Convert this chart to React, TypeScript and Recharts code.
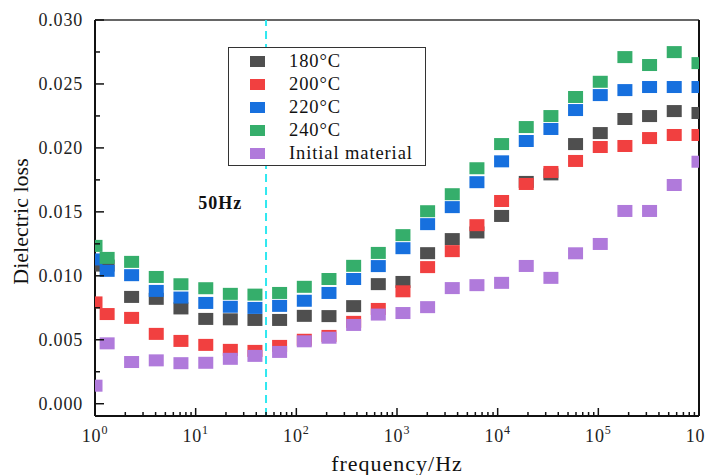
import React from 'react'
import {
  ScatterChart, Scatter, XAxis, YAxis, ReferenceLine, ReferenceDot, Legend
} from 'recharts'

const FONT = '"Liberation Serif", "Times New Roman", serif'

// measurement frequencies (Hz)
const freq = [1, 1.32, 2.31, 4.06, 7.14, 12.6, 22.1, 38.8, 68.2, 120, 211, 371, 652, 1146,
  2014, 3540, 6223, 10940, 19230, 33800, 59400, 104500, 183600, 322800, 567500, 1000000]

const t180 = [0.0108, 0.0108, 0.00835, 0.0082, 0.00745, 0.00663, 0.0066, 0.00655, 0.00655, 0.00687,
  0.00685, 0.00763, 0.00935, 0.00952, 0.01177, 0.01287, 0.01339, 0.01468, 0.01734, 0.01793,
  0.0203, 0.02116, 0.02226, 0.02249, 0.02288, 0.02273]
const t200 = [0.00792, 0.00701, 0.00671, 0.00546, 0.00491, 0.0046, 0.00421, 0.00413, 0.00452, 0.005,
  0.0053, 0.0064, 0.00741, 0.00879, 0.01068, 0.01193, 0.01396, 0.01585, 0.01718, 0.01812,
  0.01898, 0.02007, 0.02015, 0.02077, 0.02101, 0.02101]
const t220 = [0.01128, 0.01039, 0.01005, 0.00882, 0.0083, 0.00788, 0.00758, 0.00749, 0.00765, 0.00805,
  0.00866, 0.00975, 0.01076, 0.01216, 0.01404, 0.01537, 0.01732, 0.01895, 0.02054, 0.02148,
  0.02296, 0.02413, 0.02452, 0.02476, 0.02476, 0.02476]
const t240 = [0.01234, 0.0114, 0.01109, 0.00991, 0.00934, 0.00903, 0.00859, 0.00853, 0.00866, 0.00914,
  0.00975, 0.01078, 0.01179, 0.01318, 0.01505, 0.01638, 0.01841, 0.0203, 0.02163, 0.02249,
  0.02398, 0.02517, 0.0271, 0.02648, 0.02749, 0.02663]
const initial = [0.00141, 0.00472, 0.00326, 0.00339, 0.00317, 0.0032, 0.00351, 0.00374, 0.00405, 0.00488,
  0.00516, 0.00616, 0.00697, 0.00709, 0.00755, 0.00904, 0.00927, 0.00945, 0.01077, 0.00984,
  0.01176, 0.01249, 0.01507, 0.01507, 0.0171, 0.01892]

const seriesNames = ['180°C', '200°C', '220°C', '240°C', 'Initial material']
const seriesColors = ['#4f4f4f', '#f14040', '#1770de', '#35ae6b', '#b07adb']
const seriesValues = [t180, t200, t220, t240, initial]

const decades = [1, 10, 100, 1000, 10000, 100000, 1000000]
const xTicks: number[] = []
decades.forEach((d, i) => {
  if (i === decades.length - 1) { xTicks.push(d); return }
  for (let m = 1; m <= 9; m++) xTicks.push(d * m)
})
const yTicks = [0, 0.0025, 0.005, 0.0075, 0.01, 0.0125, 0.015, 0.0175, 0.02, 0.0225, 0.025, 0.0275, 0.03]

const series = seriesNames.map((name, i) => ({
  name,
  color: seriesColors[i],
  data: freq.map((f, j) => ({ f, v: seriesValues[i][j] })),
}))

function XTick(props: any) {
  const { x, y, payload } = props
  const e = Math.log10(payload.value)
  const major = Math.abs(e - Math.round(e)) < 1e-6
  const axisY = y - 10
  return (
    <g>
      <line x1={x} x2={x} y1={axisY} y2={axisY - (major ? 8 : 4)} stroke="#111" strokeWidth={1.5} />
      {major && (
        <text x={x} y={axisY + 26} textAnchor="middle" fontSize={18} fontFamily={FONT} fill="#222" letterSpacing={0.8}>
          10<tspan dy={-8} fontSize={12}>{Math.round(e)}</tspan>
        </text>
      )}
    </g>
  )
}

function YTick(props: any) {
  const { x, y, payload } = props
  const v = payload.value
  const major = Math.abs(v / 0.005 - Math.round(v / 0.005)) < 1e-6
  const axisX = x + 12
  return (
    <g>
      <line x1={axisX} x2={axisX + (major ? 9 : 5)} y1={y} y2={y} stroke="#111" strokeWidth={1.5} />
      {major && (
        <text x={x} y={y} dy={6} textAnchor="end" fontSize={18} fontFamily={FONT} fill="#222" letterSpacing={0.8}>
          {v.toFixed(3)}
        </text>
      )}
    </g>
  )
}

function LegendBox() {
  return (
    <div style={{
      border: '1.5px solid #333', background: '#fff', width: 196, height: 115,
      paddingTop: 2, boxSizing: 'content-box', fontFamily: FONT,
    }}>
      {series.map(s => (
        <div key={s.name} style={{ height: 23, display: 'flex', alignItems: 'center' }}>
          <div style={{ width: 15, height: 11, background: s.color, marginLeft: 21 }} />
          <span style={{ marginLeft: 24, fontSize: 18.5, color: '#111', letterSpacing: 0.9 }}>{s.name}</span>
        </div>
      ))}
    </div>
  )
}

export default function App() {
  return (
    <div style={{ width: 705, height: 467 }}>
      <ScatterChart width={705} height={467} margin={{ top: 12, right: 14, bottom: 0, left: 0 }}>
        <XAxis
          dataKey="f" type="number" scale="log" domain={[1, 1000000]} allowDataOverflow
          ticks={xTicks} interval={0} tick={(p: any) => <XTick {...p} />}
          tickLine={false} tickSize={0} tickMargin={10}
          axisLine={{ stroke: '#111', strokeWidth: 2 }} height={59}
          label={(p: any) => {
            const vb = p.viewBox || { x: 87, y: 408, width: 604 }
            return (
              <text x={vb.x + vb.width / 2} y={vb.y + 55} textAnchor="middle" fontSize={22}
                fontFamily={FONT} fill="#111" letterSpacing={1}>frequency/Hz</text>
            )
          }}
        />
        <YAxis
          dataKey="v" type="number" domain={[-0.00096, 0.03]} allowDataOverflow
          ticks={yTicks} interval={0} tick={(p: any) => <YTick {...p} />}
          tickLine={false} tickSize={0} tickMargin={12}
          axisLine={{ stroke: '#111', strokeWidth: 2 }} width={87}
          label={(p: any) => {
            const vb = p.viewBox || { x: 0, y: 12, width: 87, height: 396 }
            const cx = vb.x + 20
            const cy = vb.y + vb.height / 2 + 3.5
            return (
              <text x={cx} y={cy} transform={`rotate(-90 ${cx} ${cy})`} textAnchor="middle"
                fontSize={22} fontFamily={FONT} fill="#111">Dielectric loss</text>
            )
          }}
        />
        <ReferenceLine y={0.03} stroke="#333" strokeWidth={1.5} />
        <ReferenceLine x={1000000} stroke="#111" strokeWidth={2} />
        <ReferenceLine x={50} stroke="#30e8f0" strokeWidth={2} strokeDasharray="8 5" />
        <ReferenceDot
          x={17.5} y={0.0157} r={0} fill="none" stroke="none"
          label={(p: any) => {
            const vb = p.viewBox
            return (
              <text x={vb.x + (vb.width || 0) / 2} y={vb.y + (vb.height || 0) / 2} dy={6} textAnchor="middle"
                fontSize={18} fontWeight="bold" fontFamily={FONT} fill="#111" letterSpacing={1}>50Hz</text>
            )
          }}
        />
        {series.map(s => (
          <Scatter
            key={s.name} name={s.name} data={s.data} dataKey="v" fill={s.color}
            isAnimationActive={false}
            shape={(p: any) => <rect x={p.cx - 7.5} y={p.cy - 6} width={15} height={12} fill={s.color} />}
          />
        ))}
        <Legend
          layout="vertical" align="center" verticalAlign="middle"
          wrapperStyle={{ left: 220, top: 39, width: 'auto', height: 'auto' }}
          content={() => <LegendBox />}
        />
      </ScatterChart>
    </div>
  )
}
